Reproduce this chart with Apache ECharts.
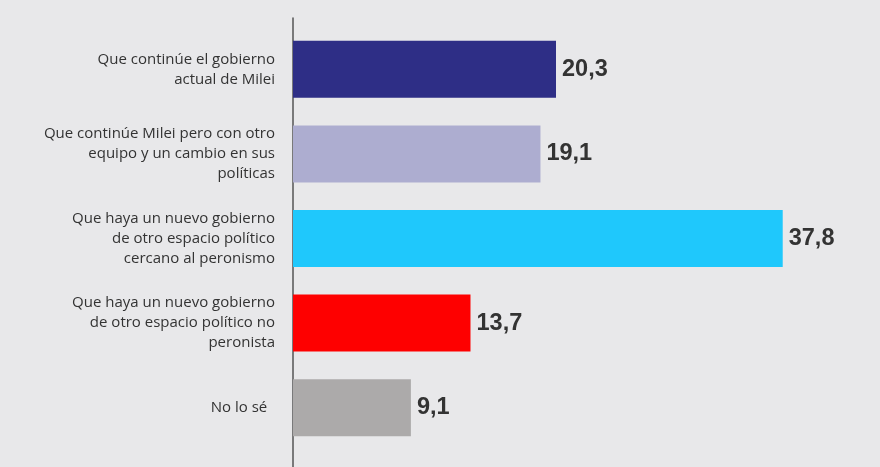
<!DOCTYPE html>
<html>
<head>
<meta charset="utf-8">
<script src="https://cdn.jsdelivr.net/npm/echarts@6/dist/echarts.min.js"></script>
<style>
  html, body { margin: 0; padding: 0; background: #e8e8ea; }
  #main { width: 880px; height: 467px; }
</style>
</head>
<body>
<div id="main"></div>
<script>
var categories = [
  'Que continúe el gobierno\nactual de Milei',
  'Que continúe Milei pero con otro\nequipo y un cambio en sus\npolíticas',
  'Que haya un nuevo gobierno\nde otro espacio político\ncercano al peronismo',
  'Que haya un nuevo gobierno\nde otro espacio político no\nperonista',
  'No lo sé  '
];
var values = [20.3, 19.1, 37.8, 13.7, 9.1];
var barColors = ['#2e2e86', '#adadd0', '#1fc8fc', '#fe0000', '#acaaaa'];

var chart = echarts.init(document.getElementById('main'));

chart.setOption({
  backgroundColor: '#e8e8ea',
  animation: false,
  grid: [
    { left: 293, top: 27, width: 583, height: 423 },
    { left: 293, top: 18, width: 583, bottom: 0 }
  ],
  xAxis: [
    { type: 'value', gridIndex: 0, min: 0, max: 45, show: false },
    { type: 'value', gridIndex: 1, min: 0, max: 45, show: false }
  ],
  yAxis: [
    {
      type: 'category',
      gridIndex: 0,
      inverse: true,
      data: categories,
      axisLine: { show: false },
      axisTick: { show: false },
      axisLabel: {
        margin: 18,
        color: '#333',
        fontFamily: 'Open Sans',
        fontSize: 15,
        lineHeight: 20,
        align: 'right'
      }
    },
    {
      type: 'category',
      gridIndex: 1,
      data: [''],
      axisLine: { show: true, lineStyle: { color: '#555', width: 1.5 } },
      axisTick: { show: false },
      axisLabel: { show: false }
    }
  ],
  series: [{
    type: 'bar',
    xAxisIndex: 0,
    yAxisIndex: 0,
    barWidth: 57,
    data: values.map(function (v, i) {
      return { value: v, itemStyle: { color: barColors[i] } };
    }),
    label: {
      show: true,
      position: 'right',
      distance: 6,
      color: '#333',
      fontFamily: 'Liberation Sans',
      fontWeight: 'bold',
      fontSize: 23.5,
      formatter: function (p) {
        return p.value.toFixed(1).replace('.', ',');
      }
    }
  }]
});
</script>
</body>
</html>
